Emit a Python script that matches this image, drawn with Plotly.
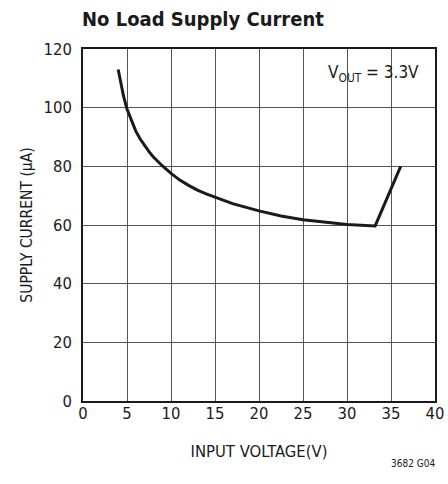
import plotly.graph_objects as go

# Data
input_voltage = [4.0, 4.3, 4.6, 5.0, 5.5, 6.0, 6.5, 7.0, 7.5, 8.0, 9.0, 10.0, 11.0, 12.0, 13.0,
                 14.0, 15.0, 17.0, 20.0, 22.5, 25.0, 27.5, 30.0, 33.2, 36.1]
supply_current = [113, 108.5, 104, 99.5, 95.5, 92, 89.3, 87, 85, 83.2, 80.2, 77.6, 75.3, 73.5, 71.9,
                  70.6, 69.5, 67.3, 64.8, 63.1, 61.8, 60.9, 60.2, 59.7, 80]

x_ticks = [0, 5, 10, 15, 20, 25, 30, 35, 40]
y_ticks = [0, 20, 40, 60, 80, 100, 120]

FONT = "DejaVu Sans Condensed, sans-serif"

fig = go.Figure()
fig.add_trace(go.Scatter(
    x=input_voltage, y=supply_current, mode="lines",
    line=dict(color="#1a1a1a", width=3, shape="linear"),
    showlegend=False, hoverinfo="skip",
))

fig.update_layout(
    width=448, height=484,
    margin=dict(l=83, r=13, t=49, b=83, autoexpand=False),
    paper_bgcolor="white", plot_bgcolor="white",
    font=dict(family=FONT, color="#1a1a1a"),
    title=dict(text="<b>No Load Supply Current</b>", x=82/448, xanchor="left",
               y=1 - 19/484, yanchor="middle",
               font=dict(family=FONT, size=20, color="#1a1a1a")),
    xaxis=dict(range=[0, 40], tickvals=x_ticks, ticks="", showgrid=True,
               gridcolor="#555555", gridwidth=1, zeroline=False, automargin=False,
               showline=True, linecolor="#1a1a1a", linewidth=1.5, mirror=True,
               tickfont=dict(size=16.5), ticklabelstandoff=-4,
               title=dict(text="INPUT VOLTAGE(V)", font=dict(size=16.5), standoff=24)),
    yaxis=dict(range=[0, 120], tickvals=y_ticks, ticks="", showgrid=True,
               gridcolor="#555555", gridwidth=1, zeroline=False, automargin=False,
               showline=True, linecolor="#1a1a1a", linewidth=1.5, mirror=True,
               tickfont=dict(size=16.5), ticklabelstandoff=6,
               title=dict(text="SUPPLY CURRENT (µA)", font=dict(size=15.5), standoff=7)),
    annotations=[
        dict(text="V<sub>OUT</sub> = 3.3V", x=(421 - 83) / 352, y=(401 - 73) / 352,
             xref="paper", yref="paper",
             xanchor="right", yanchor="middle", showarrow=False,
             font=dict(size=17, family=FONT, color="#1a1a1a")),
        dict(text="3682 G04", x=(413 - 83) / 352, y=(401 - 463) / 352,
             xref="paper", yref="paper", showarrow=False,
             xanchor="center", yanchor="middle",
             font=dict(size=10, family=FONT, color="#1a1a1a")),
    ],
)

fig.write_html("out.html", config={"displayModeBar": False},
               post_script="document.body.style.margin='0';document.body.style.overflow='hidden';")
